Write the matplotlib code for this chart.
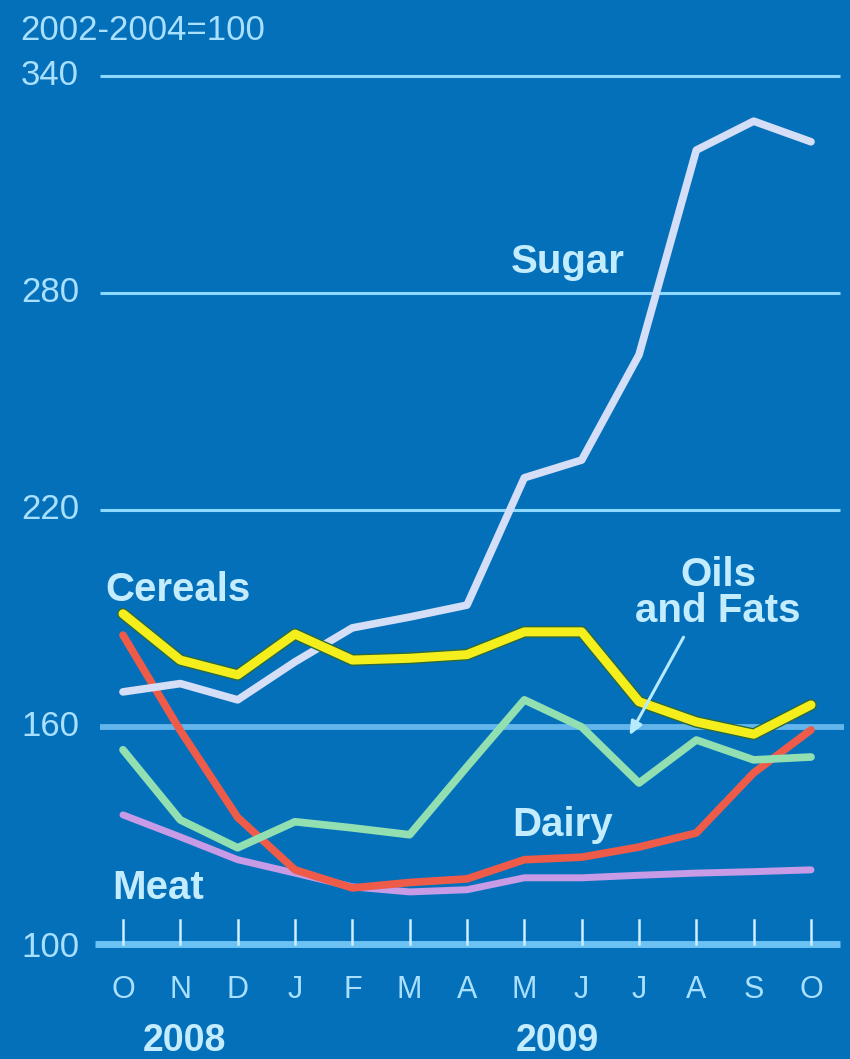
import matplotlib
matplotlib.use("Agg")
import matplotlib.pyplot as plt
import matplotlib.patheffects as pe

plt.rcParams['font.family'] = ['Liberation Sans', 'DejaVu Sans']

# FAO food price indices, 2002-2004 = 100
months = ["O", "N", "D", "J", "F", "M", "A", "M", "J", "J", "A", "S", "O"]
years = ["2008", "2009"]
yticks = [100, 160, 220, 280, 340]

sugar = [169.7, 172.0, 167.5, 178.0, 187.4, 190.4, 193.7, 228.9, 233.8, 262.9, 319.5, 327.5, 321.8]
cereals = [191.3, 178.5, 174.4, 185.7, 178.5, 179.0, 180.0, 186.3, 186.3, 167.0, 161.4, 158.0, 166.1]
oils = [153.7, 134.3, 126.6, 133.8, 132.1, 130.2, 149.0, 167.5, 160.0, 144.5, 156.4, 150.9, 151.7]
dairy = [185.4, 159.0, 135.0, 120.5, 115.5, 117.0, 118.0, 123.3, 124.0, 126.8, 130.7, 147.3, 159.2]
meat = [135.7, 129.6, 123.3, 119.6, 115.8, 114.4, 115.0, 118.3, 118.3, 119.0, 119.6, 120.0, 120.5]

BG = "#0570ba"
TXT = "#a9e0ff"
LBL = "#c4ecff"
GRID = "#8cd8ff"

fig = plt.figure(figsize=(8.5, 10.59), dpi=100)
fig.patch.set_facecolor(BG)
ax = fig.add_axes([0, 0, 1, 1])
ax.set_facecolor(BG)
ax.set_xlim(-2.145, 12.68)
ax.set_ylim(68.2, 361.0)
ax.axis("off")

x = list(range(len(months)))

# horizontal reference lines
for v in yticks[2:]:
    ax.plot([-0.40, 12.51], [v, v], color=GRID, lw=2.2, solid_capstyle="butt", zorder=1)
ax.plot([-0.40, 12.58], [160, 160], color="#62b6ec", lw=4.2, solid_capstyle="butt", zorder=1)
ax.plot([-0.49, 12.51], [100, 100], color="#6cc2f2", lw=5.0, solid_capstyle="butt", zorder=1)
for xi in x:
    ax.plot([xi, xi], [100, 106.5], color="#cfeeff", lw=1.8, zorder=2)

for v in yticks:
    ax.text(-1.78, v - (1 if v == 100 else 0), str(v), color=TXT, fontsize=25,
            ha="left", va="center")
ax.text(-1.80, 352.7, "2002-2004=100", color=TXT, fontsize=25, ha="left", va="center")

for xi, m in zip(x, months):
    ax.text(xi, 87.3, m, color=TXT, fontsize=22, ha="center", va="center")
ax.text(1.08, 73.1, years[0], color=LBL, fontsize=27, fontweight="bold", ha="center", va="center")
ax.text(7.57, 73.1, years[1], color=LBL, fontsize=27, fontweight="bold", ha="center", va="center")

# series
style = dict(solid_joinstyle="round", solid_capstyle="round")
ax.plot(x, meat, color="#c79be6", lw=5.0, zorder=3, **style)
ax.plot(x, dairy, color="#ee5b48", lw=5.5, zorder=4, **style)
ax.plot(x, oils, color="#92e0b2", lw=5.5, zorder=5, **style)
ax.plot(x, sugar, color="#d4def6", lw=5.5, zorder=6, **style)
ax.plot(x, cereals, color="#f4ef1c", lw=6.5, zorder=7,
        path_effects=[pe.Stroke(linewidth=8.5, foreground="#2c6a3c"), pe.Normal()], **style)

lab = dict(color=LBL, fontsize=29, fontweight="bold", ha="center", va="center", zorder=9)
ax.text(7.76, 288.6, "Sugar", **lab)
ax.text(0.96, 197.9, "Cereals", **lab)
ax.text(10.38, 197.0, "Oils\nand Fats", linespacing=0.95, **lab)
ax.text(7.66, 132.9, "Dairy", **lab)
ax.text(0.61, 115.5, "Meat", **lab)

ax.annotate("", xy=(8.81, 157.0), xytext=(9.80, 185.5),
            arrowprops=dict(arrowstyle="-|>,head_length=0.8,head_width=0.35",
                            color="#b8eaff", lw=2.2), zorder=9)

fig.savefig("out.png", dpi=100, facecolor=BG)
